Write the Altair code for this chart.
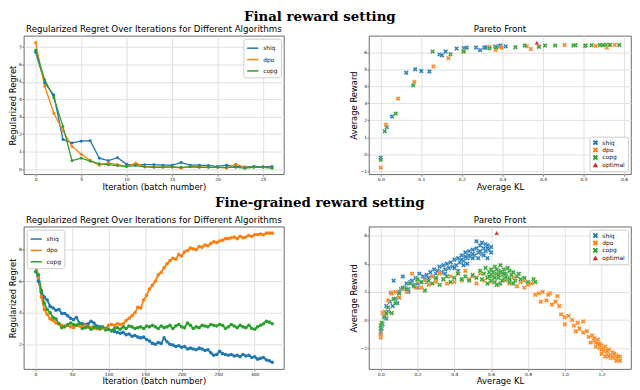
import altair as alt
import pandas as pd

SERIES = ["shiq", "dpo", "copg"]
COLORS = ["#1f77b4", "#ff7f0e", "#2ca02c"]
SC_SERIES = ["shiq", "dpo", "copg", "optimal"]
SC_COLORS = ["#1f77b4", "#ff7f0e", "#2ca02c", "#d62728"]
X_SHAPE = "M-0.5,-1L0,-0.5L0.5,-1L1,-0.5L0.5,0L1,0.5L0.5,1L0,0.5L-0.5,1L-1,0.5L-0.5,0L-1,-0.5Z"
SC_SHAPES = [X_SHAPE, X_SHAPE, X_SHAPE, "triangle-up"]

# ---------------- Final reward setting: regret ----------------
final_iters = list(range(27))
final_shiq = [6.7, 4.95, 4.25, 1.7, 1.5, 1.6, 1.63, 0.62, 0.48, 0.65, 0.27, 0.25, 0.25, 0.25,
              0.22, 0.22, 0.37, 0.22, 0.22, 0.2, 0.15, 0.22, 0.15, 0.12, 0.15, 0.13, 0.15]
final_dpo = [7.25, 4.75, 3.2, 2.2, 1.3, 0.85, 0.5, 0.22, 0.35, 0.25, 0.15, 0.33, 0.15, 0.12,
             0.12, 0.12, 0.05, 0.15, 0.12, 0.1, 0.1, 0.05, 0.28, 0.1, 0.1, 0.1, 0.08]
final_copg = [6.82, 5.12, 4.1, 2.45, 0.48, 0.62, 0.45, 0.3, 0.25, 0.2, 0.15, 0.2, 0.12, 0.1,
              0.1, 0.12, 0.1, 0.13, 0.1, 0.1, 0.1, 0.1, 0.1, 0.05, 0.1, 0.1, 0.05]

# ---------------- Final reward setting: pareto ----------------
final_shiq_kl = [0.0, 0.015, 0.028, 0.063, 0.085, 0.1, 0.12, 0.145, 0.151, 0.16, 0.187, 0.205,
                 0.212, 0.235, 0.245, 0.255, 0.262, 0.282, 0.292, 0.295, 0.308, 0.258]
final_shiq_rw = [-0.2, 1.6, 2.23, 4.8, 5.0, 4.9, 4.87, 5.88, 5.83, 6.05, 6.22, 6.25,
                 6.27, 6.28, 6.13, 6.27, 6.3, 6.35, 6.35, 6.4, 6.35, 6.28]
final_dpo_kl = [0.0, 0.013, 0.043, 0.083, 0.13, 0.167, 0.203, 0.268, 0.283, 0.298, 0.36, 0.37,
                0.453, 0.503, 0.53, 0.545, 0.557, 0.565, 0.577, 0.39]
final_dpo_rw = [-0.78, 1.75, 3.28, 4.26, 5.17, 5.66, 6.06, 6.32, 6.15, 6.27, 6.35, 6.19,
                6.43, 6.37, 6.38, 6.42, 6.28, 6.42, 6.43, 6.35]
final_copg_kl = [0.0, 0.01, 0.037, 0.08, 0.128, 0.172, 0.205, 0.268, 0.285, 0.332, 0.355, 0.39,
                 0.405, 0.43, 0.475, 0.48, 0.505, 0.52, 0.54, 0.555, 0.565, 0.588, 0.548]
final_copg_rw = [-0.32, 1.36, 2.4, 4.06, 6.04, 5.89, 6.05, 6.23, 6.28, 6.3, 6.4, 6.32,
                 6.4, 6.4, 6.4, 6.42, 6.4, 6.42, 6.43, 6.45, 6.44, 6.43, 6.42]
final_opt_kl = [0.385]
final_opt_rw = [6.57]

# ---------------- Fine-grained reward setting: regret ----------------
fine_iters = list(range(0, 325, 4))
fine_shiq = [6.9, 6.0, 5.3, 5.0, 4.8, 4.4, 4.3, 4.15, 4.2, 3.95,
             3.95, 3.8, 3.65, 3.55, 3.7, 3.35, 3.3, 3.25, 3.3, 3.45,
             3.35, 3.15, 3.1, 3.05, 3.0, 2.95, 2.85, 2.8, 2.75, 2.7,
             2.75, 2.6, 2.65, 2.5, 2.55, 2.45, 2.4, 2.45, 2.3, 2.2,
             2.05, 2.0, 2.1, 2.05, 2.4, 2.15, 2.0, 1.95, 1.85, 1.9,
             1.8, 1.85, 1.7, 1.75, 1.7, 1.65, 1.75, 1.7, 1.6, 1.65,
             1.45, 1.3, 1.35, 1.55, 1.4, 1.35, 1.3, 1.35, 1.25, 1.3,
             1.2, 1.35, 1.25, 1.3, 1.15, 1.2, 1.05, 1.1, 1.15, 1.0,
             0.95, 0.85]
fine_dpo = [7.4, 6.2, 5.0, 4.2, 3.9, 3.6, 3.5, 3.35, 3.3, 3.2,
            3.15, 3.2, 3.1, 3.05, 3.2, 3.15, 3.1, 3.2, 3.1, 3.05,
            3.0, 3.0, 2.95, 3.05, 2.95, 3.2, 3.25, 3.2, 3.3, 3.25,
            3.3, 3.5, 3.65, 3.8, 4.0, 4.35, 4.3, 4.8, 5.1, 5.5,
            5.75, 6.0, 6.4, 6.55, 6.85, 7.1, 7.3, 7.45, 7.4, 7.7,
            7.6, 7.85, 7.95, 8.1, 8.05, 8.0, 8.2, 8.15, 8.3, 8.25,
            8.4, 8.5, 8.45, 8.55, 8.6, 8.7, 8.7, 8.75, 8.8, 8.7,
            8.85, 8.75, 8.8, 8.9, 8.85, 8.95, 8.95, 9.0, 8.95, 9.05,
            9.05, 9.05]
fine_copg = [6.6, 6.4, 5.4, 4.6, 4.2, 4.0, 3.7, 3.6, 3.3, 3.05,
             3.1, 3.25, 3.35, 3.25, 3.2, 3.3, 3.0, 3.05, 3.1, 2.95,
             3.1, 3.05, 3.0, 3.1, 2.9, 2.95, 2.85, 3.0, 3.05, 2.95,
             3.1, 3.0, 3.15, 3.1, 3.0, 3.05, 3.1, 3.0, 3.15, 3.1,
             3.2, 3.1, 3.0, 3.15, 3.05, 3.1, 3.2, 3.0, 3.15, 3.25,
             3.1, 3.05, 3.35, 3.2, 3.0, 3.1, 3.05, 3.2, 3.15, 3.1,
             3.25, 3.2, 3.15, 3.25, 3.2, 3.0, 3.1, 3.25, 3.15, 3.05,
             3.2, 3.1, 3.05, 3.2, 3.0, 2.95, 3.1, 3.2, 3.3, 3.45,
             3.4, 3.3]

# ---------------- Fine-grained reward setting: pareto ----------------
fine_shiq_kl = [0.0, 0.0, 0.005, 0.01, 0.02, 0.03, 0.04, 0.05, 0.055, 0.065,
                0.07, 0.08, 0.09, 0.1, 0.11, 0.12, 0.13, 0.14, 0.15, 0.16,
                0.17, 0.18, 0.19, 0.2, 0.21, 0.22, 0.23, 0.24, 0.25, 0.26,
                0.27, 0.28, 0.29, 0.3, 0.31, 0.32, 0.33, 0.34, 0.35, 0.36,
                0.37, 0.38, 0.39, 0.4, 0.41, 0.42, 0.43, 0.44, 0.45, 0.46,
                0.47, 0.48, 0.49, 0.5, 0.51, 0.52, 0.53, 0.54, 0.55, 0.56,
                0.57, 0.58, 0.59, 0.6, 0.6, 0.58, 0.55, 0.5, 0.45, 0.4,
                0.35, 0.3, 0.42, 0.47, 0.53, 0.57, 0.25, 0.2, 0.15, 0.1,
                0.06, 0.03, 0.48, 0.5, 0.52, 0.54, 0.56, 0.58, 0.46, 0.44]
fine_shiq_rw = [-1.05, -0.85, -0.6, -0.3, 0.3, 0.1, 0.6, 1.3, 1.95, 1.0,
                2.8, 1.5, 1.2, 1.6, 2.2, 3.1, 2.3, 2.6, 2.2, 2.7,
                2.8, 2.5, 3.0, 2.6, 3.3, 2.7, 3.1, 2.9, 3.2, 3.0,
                3.4, 3.1, 3.6, 3.3, 3.5, 3.8, 3.4, 3.9, 3.6, 4.0,
                3.7, 4.1, 3.8, 4.3, 3.9, 4.4, 4.1, 4.6, 4.2, 4.8,
                4.4, 4.9, 4.5, 5.0, 4.6, 5.6, 4.8, 5.3, 4.7, 5.1,
                5.4, 4.4, 5.0, 5.2, 4.8, 5.3, 5.5, 4.4, 3.9, 3.7,
                3.3, 2.9, 3.5, 4.0, 4.4, 4.9, 2.7, 2.3, 2.0, 2.0,
                1.9, 1.0, 4.6, 4.7, 5.1, 4.9, 4.6, 5.1, 4.5, 4.3]
fine_dpo_kl = [0.0, 0.0, 0.01, 0.02, 0.03, 0.04, 0.06, 0.08, 0.1, 0.12,
               0.14, 0.17, 0.19, 0.2, 0.22, 0.24, 0.26, 0.28, 0.3, 0.32,
               0.34, 0.36, 0.38, 0.4, 0.42, 0.44, 0.46, 0.48, 0.5, 0.52,
               0.54, 0.56, 0.58, 0.6, 0.62, 0.64, 0.66, 0.68, 0.7, 0.72,
               0.74, 0.76, 0.78, 0.8, 0.82, 0.84, 0.86, 0.88, 0.9, 0.92,
               0.93, 0.95, 0.96, 0.98, 1.0, 1.0, 1.02, 1.04, 1.05, 1.07,
               1.08, 1.1, 1.1, 1.12, 1.13, 1.15, 1.16, 1.17, 1.18, 1.19,
               1.2, 1.21, 1.22, 1.23, 1.24, 1.25, 1.26, 1.27, 1.28, 1.29,
               1.3, 1.3, 1.25, 1.2, 1.18, 1.28, 1.22, 1.14, 1.06, 0.97,
               0.91, 0.87, 0.78, 1.16, 1.19, 1.21, 1.23, 1.24, 1.26, 1.27,
               1.29, 1.17, 1.2]
fine_dpo_rw = [-1.25, -1.0, 0.5, 0.6, 0.4, 1.4, 1.9, 2.0, 1.6, 2.2,
               2.0, 3.3, 2.3, 2.8, 2.3, 2.8, 2.5, 3.1, 2.7, 3.3,
               2.9, 2.6, 3.1, 2.7, 3.3, 2.8, 3.5, 2.9, 3.1, 2.6,
               3.3, 2.8, 3.0, 2.7, 3.2, 2.5, 3.4, 2.8, 2.6, 3.0,
               2.4, 2.7, 2.3, 2.5, 2.6, 1.8, 1.9, 2.0, 1.4, 1.9,
               1.1, 1.3, 1.7, 0.4, 0.2, -0.3, 0.3, 0.0, -0.4, -0.2,
               -0.6, -0.1, -0.9, -0.8, -1.2, -1.1, -1.5, -1.9, -1.4, -2.0,
               -1.8, -2.2, -1.9, -2.4, -2.1, -2.5, -2.3, -2.7, -2.5, -2.8,
               -2.6, -2.9, -2.7, -2.4, -1.7, -2.9, -2.6, -1.6, -0.8, 1.0,
               1.8, 1.3, 2.8, -1.3, -1.7, -2.0, -2.2, -2.6, -2.6, -2.4,
               -2.6, -1.6, -2.1]
fine_copg_kl = [0.0, 0.0, 0.005, 0.02, 0.03, 0.04, 0.06, 0.07, 0.08, 0.1,
                0.12, 0.14, 0.16, 0.18, 0.2, 0.22, 0.24, 0.26, 0.28, 0.3,
                0.32, 0.34, 0.36, 0.38, 0.4, 0.42, 0.44, 0.46, 0.48, 0.5,
                0.52, 0.54, 0.55, 0.56, 0.57, 0.58, 0.59, 0.6, 0.6, 0.61,
                0.62, 0.62, 0.63, 0.64, 0.64, 0.65, 0.65, 0.66, 0.67, 0.67,
                0.68, 0.69, 0.7, 0.7, 0.71, 0.72, 0.73, 0.74, 0.75, 0.76,
                0.78, 0.8, 0.83, 0.84, 0.58, 0.63, 0.66, 0.61, 0.69, 0.72,
                0.6, 0.62, 0.64, 0.65, 0.66, 0.68, 0.63, 0.67, 0.59, 0.7]
fine_copg_rw = [-0.6, -0.4, -0.2, 0.2, 0.5, 0.9, 0.5, 1.5, 1.2, 1.9,
                2.3, 2.2, 2.6, 2.4, 2.9, 2.7, 2.1, 2.8, 2.6, 3.0,
                2.5, 2.9, 3.1, 2.7, 3.0, 3.3, 2.9, 3.1, 2.8, 3.2,
                3.0, 3.5, 2.9, 3.3, 3.7, 3.0, 3.4, 2.8, 3.6, 3.1,
                3.8, 2.7, 3.3, 3.0, 3.5, 2.6, 3.9, 3.2, 2.9, 3.6,
                3.3, 3.0, 3.5, 2.7, 3.2, 3.4, 2.8, 3.1, 3.3, 2.9,
                3.0, 2.7, 2.9, 2.7, 2.6, 2.5, 3.4, 3.4, 3.7, 2.6,
                3.2, 3.0, 3.2, 3.4, 2.8, 3.1, 3.6, 3.3, 3.1, 2.9]
fine_opt_kl = [0.63]
fine_opt_rw = [6.2]

REGRET_TITLE = "Regularized Regret Over Iterations for Different Algorithms"

W_LEFT = 263
W_RIGHT = 265
H_TOP = 140
H_BOTTOM = 144


def title_params(text):
    return alt.TitleParams(text, font="DejaVu Sans", fontSize=8.8, fontWeight="normal",
                           color="black", offset=2, anchor="middle")


def regret_panel(iters, shiq, dpo, copg, xdom, ydom, xticks, yticks, legend_orient,
                 stroke_w, pt_size, h):
    rows = []
    for name, vals in zip(SERIES, [shiq, dpo, copg]):
        for it, v in zip(iters, vals):
            rows.append({"iteration": it, "regret": v, "series": name})
    df = pd.DataFrame(rows)
    return alt.Chart(df).mark_line(
        strokeWidth=stroke_w, point=alt.OverlayMarkDef(filled=True, size=pt_size, opacity=1)
    ).encode(
        x=alt.X("iteration:Q", scale=alt.Scale(domain=xdom, nice=False, zero=False),
                axis=alt.Axis(title="Iteration (batch number)", values=xticks, format="d")),
        y=alt.Y("regret:Q", scale=alt.Scale(domain=ydom, nice=False, zero=False),
                axis=alt.Axis(title="Regularized Regret", values=yticks, format="d")),
        color=alt.Color("series:N", sort=SERIES,
                        scale=alt.Scale(domain=SERIES, range=COLORS),
                        legend=alt.Legend(title=None, orient=legend_orient, symbolType="stroke",
                                          symbolSize=130, symbolStrokeWidth=1.5)),
    ).properties(width=W_LEFT, height=h, title=title_params(REGRET_TITLE))


def pareto_panel(groups, xdom, ydom, xticks, yticks, legend_orient, h):
    rows = []
    for name, (kl, rw) in zip(SC_SERIES, groups):
        for a, b in zip(kl, rw):
            rows.append({"kl": a, "reward": b, "series": name})
    df = pd.DataFrame(rows)
    leg = alt.Legend(title=None, orient=legend_orient, symbolSize=30, symbolStrokeWidth=0)
    return alt.Chart(df).mark_point(
        filled=True, size=24, opacity=0.95, stroke="white", strokeWidth=0.3
    ).encode(
        x=alt.X("kl:Q", scale=alt.Scale(domain=xdom, nice=False, zero=False),
                axis=alt.Axis(title="Average KL", values=xticks, format=".1f")),
        y=alt.Y("reward:Q", scale=alt.Scale(domain=ydom, nice=False, zero=False),
                axis=alt.Axis(title="Average Reward", values=yticks, format="d")),
        color=alt.Color("series:N", sort=SC_SERIES,
                        scale=alt.Scale(domain=SC_SERIES, range=SC_COLORS), legend=leg),
        shape=alt.Shape("series:N", sort=SC_SERIES,
                        scale=alt.Scale(domain=SC_SERIES, range=SC_SHAPES), legend=leg),
    ).properties(width=W_RIGHT, height=h, title=title_params("Pareto Front"))


p1 = regret_panel(final_iters, final_shiq, final_dpo, final_copg,
                  [-1.3, 27.3], [-0.3, 7.65], [0, 5, 10, 15, 20, 25],
                  [0, 1, 2, 3, 4, 5, 6, 7], "top-right", 1.3, 9, H_TOP)
p2 = pareto_panel([(final_shiq_kl, final_shiq_rw), (final_dpo_kl, final_dpo_rw),
                   (final_copg_kl, final_copg_rw), (final_opt_kl, final_opt_rw)],
                  [-0.029, 0.617], [-1.17, 6.97],
                  [0.0, 0.1, 0.2, 0.3, 0.4, 0.5, 0.6], [-1, 0, 1, 2, 3, 4, 5, 6],
                  "bottom-right", H_TOP)
p3 = regret_panel(fine_iters, fine_shiq, fine_dpo, fine_copg,
                  [-16, 340], [0.42, 9.46], [0, 50, 100, 150, 200, 250, 300],
                  [2, 4, 6, 8], "top-left", 1.8, 13, H_BOTTOM)
p4 = pareto_panel([(fine_shiq_kl, fine_shiq_rw), (fine_dpo_kl, fine_dpo_rw),
                   (fine_copg_kl, fine_copg_rw), (fine_opt_kl, fine_opt_rw)],
                  [-0.064, 1.36], [-3.49, 6.64],
                  [0.0, 0.2, 0.4, 0.6, 0.8, 1.0, 1.2], [-2, 0, 2, 4, 6],
                  "top-right", H_BOTTOM)


def section_title(text, offset):
    return alt.TitleParams(text, font="DejaVu Serif", fontSize=13.5, fontWeight="bold",
                           color="black", anchor="middle", offset=offset)


indep = dict(color="independent", shape="independent", x="independent", y="independent")

top = alt.hconcat(p1, p2, spacing=65).resolve_scale(**indep).resolve_legend(
    color="independent", shape="independent").properties(
    title=section_title("Final reward setting", 1))
bottom = alt.hconcat(p3, p4, spacing=65).resolve_scale(**indep).resolve_legend(
    color="independent", shape="independent").properties(
    title=section_title("Fine-grained reward setting", 6))

chart = alt.vconcat(top, bottom, spacing=5).resolve_scale(**indep).resolve_legend(
    color="independent", shape="independent"
).properties(padding=0).configure_view(
    stroke="#444", strokeWidth=0.8
).configure_axis(
    labelFont="DejaVu Sans", titleFont="DejaVu Sans", labelFontSize=4.5, titleFontSize=8.5,
    titleFontWeight="normal", labelColor="#111", titleColor="black", tickColor="#333",
    tickSize=2, tickWidth=0.6, labelPadding=0.5, titlePadding=1, gridColor="#e0e0e0",
    gridWidth=1, domain=False
).configure_legend(
    fillColor="white", strokeColor="#cccccc", padding=3, cornerRadius=2, labelFontSize=6,
    labelFont="DejaVu Sans", labelColor="#111", rowPadding=1.5, offset=3, symbolOpacity=1
)

chart.save("out.html", embed_options={"renderer": "svg", "actions": False})
